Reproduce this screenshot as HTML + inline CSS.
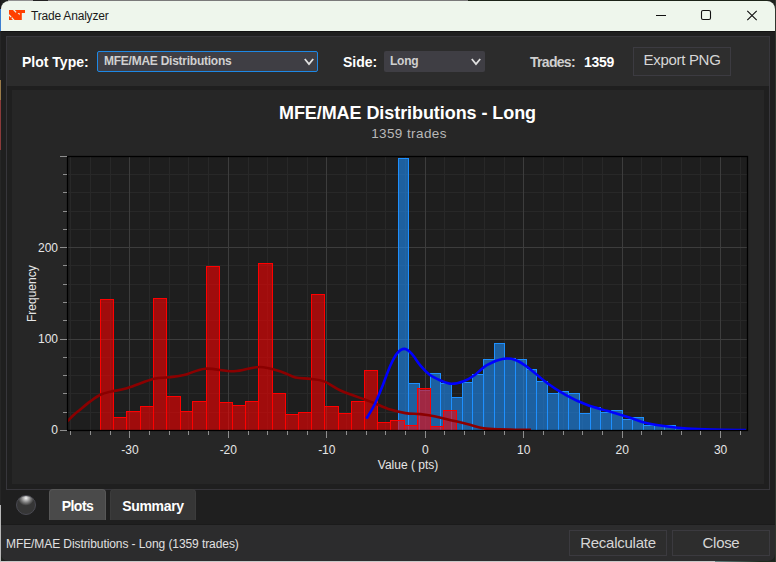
<!DOCTYPE html>
<html><head><meta charset="utf-8">
<style>
*{box-sizing:border-box;margin:0;padding:0}
html,body{width:776px;height:562px;overflow:hidden}
body{position:relative;background:#1e221e;font-family:"Liberation Sans",sans-serif}
.abs{position:absolute}
.win{position:absolute;left:1px;top:1px;width:774px;height:560px;border-radius:8px;overflow:hidden;background:#1f1f1f}
.title{position:absolute;left:0;top:0;width:774px;height:30px;background:#eef6ec}
.tline{position:absolute;left:0;top:30px;width:774px;height:1px;background:#121212}
.ttext{position:absolute;left:30px;top:8px;font-size:12px;letter-spacing:-0.2px;color:#1a1a1a;white-space:nowrap}
.panel{position:absolute;left:6px;top:36px;width:764px;height:454px;border:1px solid #37363b;background:#1f1f1f}
.hdr{position:absolute;left:7px;top:37px;width:762px;height:49px;background:#2c2c2c}
.chartbox{position:absolute;left:12px;top:90px;width:752px;height:394px;background:#262626}
.lbl{position:absolute;font-weight:bold;font-size:14px;letter-spacing:0;color:#fff;white-space:nowrap}
.combo{position:absolute;height:21px;background:#3f3e44;border-radius:2px}
.combo .t{position:absolute;left:6px;top:3px;font-size:12px;letter-spacing:-0.25px;font-weight:bold;color:#d0d0d0;white-space:nowrap}
.btn{position:absolute;border:1px solid #3a3a3a;background:#2a2a2a;color:#d6d6d6;font-size:14px;text-align:center;white-space:nowrap}
.tl{position:absolute;width:40px;text-align:center;font-size:12px;color:#e6e6e6}
.yl{position:absolute;left:21px;width:37px;text-align:right;font-size:12px;color:#e6e6e6}
.tab{position:absolute;top:489px;height:31px;border-radius:4px 4px 0 0;font-weight:bold;font-size:13.5px;color:#fff;text-align:center;line-height:31px}
.status{position:absolute;left:0;top:523px;width:774px;height:37px;background:#2b2b2b}
</style></head>
<body>
<div class="abs" style="left:0;top:0;width:1px;height:562px;background:linear-gradient(#1a1a1a 0,#1a1a1a 9px,#3d7fd0 9px,#3d7fd0 31px,#262626 31px,#262626 80px,#9a7a48 80px,#9a7a48 100px,#8a3a3a 100px,#8a3a3a 150px,#262626 150px,#262626 505px,#b8b8b8 505px)"></div>
<div class="abs" style="left:0;top:561px;width:776px;height:1px;background:linear-gradient(90deg,#c8c8c8 0,#c8c8c8 715px,#6a8888 715px,#1e2a1e 760px)"></div>
<div class="abs" style="left:775px;top:0;width:1px;height:562px;background:#30362e"></div>
<div class="abs" style="left:8px;top:0;width:760px;height:1px;background:linear-gradient(90deg,#909090 0,#909090 25px,#222 25px,#222 40px,#7a7a7a 40px,#7a7a7a 460px,#1c2418 460px)"></div>
<div class="win">
  <div class="title"></div>
  <div class="tline"></div>
  <svg class="abs" style="left:8px;top:9px" width="16" height="10" viewBox="0 0 16 10">
    <path d="M0,0 H16 V3 H12.8 V10 H0 Z" fill="#ff4000"/>
    <path d="M4.5,-0.4 L7.1,2.4 M-0.3,4.6 L2.1,7 M2.7,7.6 L5.1,10.4" stroke="#eef6ec" stroke-width="1.3"/>
    <path d="M8.6,3 L10.6,3 L10.6,5.2 Z" fill="#eef6ec"/>
  </svg>
  <div class="ttext">Trade Analyzer</div>
  <!-- title buttons -->
  <svg class="abs" style="left:639px;top:-1px" width="134" height="30" viewBox="0 0 134 30">
    <path d="M16,15.5 H26" stroke="#111" stroke-width="1.1"/>
    <rect x="61.5" y="10.5" width="9" height="9" rx="1.5" fill="none" stroke="#111" stroke-width="1.1"/>
    <path d="M107.3,10.8 L116.7,20.2 M116.7,10.8 L107.3,20.2" stroke="#111" stroke-width="1.15"/>
  </svg>
</div>
<div class="panel"></div>
<div class="hdr"></div>
<div class="lbl" style="left:22px;top:54px">Plot Type:</div>
<div class="combo" style="left:97px;top:51px;width:221px;border:1px solid #1e88e5"><div class="t" style="left:6px;top:2px">MFE/MAE Distributions</div>
  <svg class="abs" style="left:206px;top:5.5px" width="11" height="8" viewBox="0 0 11 8"><path d="M0.8,1 L5,6 L9.2,1" stroke="#e0e0e0" stroke-width="1.8" fill="none"/></svg></div>
<div class="lbl" style="left:343px;top:54px">Side:</div>
<div class="combo" style="left:384px;top:51px;width:101px"><div class="t" style="left:6px;top:3px">Long</div>
  <svg class="abs" style="left:86.5px;top:6.5px" width="11" height="8" viewBox="0 0 11 8"><path d="M0.8,1 L5,6 L9.2,1" stroke="#e0e0e0" stroke-width="1.8" fill="none"/></svg></div>
<div class="lbl" style="left:530px;top:54px;color:#cfcfcf;font-size:14px;letter-spacing:-0.7px">Trades:</div>
<div class="lbl" style="left:584px;top:54px;font-size:14px;letter-spacing:-0.3px">1359</div>
<div class="btn" style="left:633px;top:47px;width:98px;height:29px;line-height:24px;font-size:15px;letter-spacing:-0.3px;background:#2e2e2e;border-color:#3c3b41">Export PNG</div>

<div class="chartbox"></div>
<div class="abs" style="left:0;width:815px;top:103px;text-align:center;font-weight:bold;font-size:18px;letter-spacing:-0.07px;color:#fff;white-space:nowrap">MFE/MAE Distributions - Long</div>
<div class="abs" style="left:0;width:816px;top:126px;width:818px;text-align:center;font-size:13.5px;letter-spacing:0.4px;color:#b8b8b8;white-space:nowrap">1359 trades</div>
<svg width="776" height="562" viewBox="0 0 776 562" style="position:absolute;left:0;top:0">
<rect x="67" y="156" width="680" height="274" fill="#1e1e1e"/>
<path d="M70.5,156 V430 M90.5,156 V430 M110.5,156 V430 M149.5,156 V430 M169.5,156 V430 M188.5,156 V430 M208.5,156 V430 M248.5,156 V430 M267.5,156 V430 M287.5,156 V430 M307.5,156 V430 M346.5,156 V430 M366.5,156 V430 M385.5,156 V430 M405.5,156 V430 M444.5,156 V430 M464.5,156 V430 M484.5,156 V430 M504.5,156 V430 M543.5,156 V430 M563.5,156 V430 M582.5,156 V430 M602.5,156 V430 M641.5,156 V430 M661.5,156 V430 M681.5,156 V430 M700.5,156 V430 M740.5,156 V430 M67,412.5 H747 M67,393.5 H747 M67,375.5 H747 M67,357.5 H747 M67,320.5 H747 M67,302.5 H747 M67,284.5 H747 M67,265.5 H747 M67,229.5 H747 M67,211.5 H747 M67,192.5 H747 M67,174.5 H747" stroke="#282828" stroke-width="1" fill="none"/>
<path d="M129.5,156 V430 M228.5,156 V430 M326.5,156 V430 M425.5,156 V430 M523.5,156 V430 M622.5,156 V430 M720.5,156 V430 M67,339.5 H747 M67,247.5 H747" stroke="#3d3d3d" stroke-width="1" fill="none"/>
<clipPath id="pc"><rect x="67" y="156" width="680" height="274"/></clipPath>
<g clip-path="url(#pc)">
<rect x="398.5" y="158.5" width="10.0" height="272.0" fill="rgba(30,144,255,0.58)" stroke="#1e90ff" stroke-width="1"/>
<rect x="408.5" y="383.5" width="11.0" height="47.0" fill="rgba(30,144,255,0.58)" stroke="#1e90ff" stroke-width="1"/>
<rect x="419.5" y="390.5" width="11.0" height="40.0" fill="rgba(30,144,255,0.58)" stroke="#1e90ff" stroke-width="1"/>
<rect x="430.5" y="373.5" width="10.0" height="57.0" fill="rgba(30,144,255,0.58)" stroke="#1e90ff" stroke-width="1"/>
<rect x="440.5" y="383.5" width="11.0" height="47.0" fill="rgba(30,144,255,0.58)" stroke="#1e90ff" stroke-width="1"/>
<rect x="451.5" y="397.5" width="11.0" height="33.0" fill="rgba(30,144,255,0.58)" stroke="#1e90ff" stroke-width="1"/>
<rect x="462.5" y="382.5" width="10.0" height="48.0" fill="rgba(30,144,255,0.58)" stroke="#1e90ff" stroke-width="1"/>
<rect x="472.5" y="374.5" width="11.0" height="56.0" fill="rgba(30,144,255,0.58)" stroke="#1e90ff" stroke-width="1"/>
<rect x="483.5" y="359.5" width="11.0" height="71.0" fill="rgba(30,144,255,0.58)" stroke="#1e90ff" stroke-width="1"/>
<rect x="494.5" y="343.5" width="10.0" height="87.0" fill="rgba(30,144,255,0.58)" stroke="#1e90ff" stroke-width="1"/>
<rect x="504.5" y="358.5" width="11.0" height="72.0" fill="rgba(30,144,255,0.58)" stroke="#1e90ff" stroke-width="1"/>
<rect x="515.5" y="359.5" width="11.0" height="71.0" fill="rgba(30,144,255,0.58)" stroke="#1e90ff" stroke-width="1"/>
<rect x="526.5" y="369.5" width="10.0" height="61.0" fill="rgba(30,144,255,0.58)" stroke="#1e90ff" stroke-width="1"/>
<rect x="536.5" y="381.5" width="11.0" height="49.0" fill="rgba(30,144,255,0.58)" stroke="#1e90ff" stroke-width="1"/>
<rect x="547.5" y="393.5" width="11.0" height="37.0" fill="rgba(30,144,255,0.58)" stroke="#1e90ff" stroke-width="1"/>
<rect x="558.5" y="391.5" width="10.0" height="39.0" fill="rgba(30,144,255,0.58)" stroke="#1e90ff" stroke-width="1"/>
<rect x="568.5" y="393.5" width="11.0" height="37.0" fill="rgba(30,144,255,0.58)" stroke="#1e90ff" stroke-width="1"/>
<rect x="579.5" y="413.5" width="11.0" height="17.0" fill="rgba(30,144,255,0.58)" stroke="#1e90ff" stroke-width="1"/>
<rect x="590.5" y="407.5" width="10.0" height="23.0" fill="rgba(30,144,255,0.58)" stroke="#1e90ff" stroke-width="1"/>
<rect x="600.5" y="412.5" width="11.0" height="18.0" fill="rgba(30,144,255,0.58)" stroke="#1e90ff" stroke-width="1"/>
<rect x="611.5" y="410.5" width="11.0" height="20.0" fill="rgba(30,144,255,0.58)" stroke="#1e90ff" stroke-width="1"/>
<rect x="622.5" y="419.5" width="10.0" height="11.0" fill="rgba(30,144,255,0.58)" stroke="#1e90ff" stroke-width="1"/>
<rect x="632.5" y="417.5" width="11.0" height="13.0" fill="rgba(30,144,255,0.58)" stroke="#1e90ff" stroke-width="1"/>
<rect x="643.5" y="425.5" width="11.0" height="5.0" fill="rgba(30,144,255,0.58)" stroke="#1e90ff" stroke-width="1"/>
<rect x="654.5" y="425.5" width="10.0" height="5.0" fill="rgba(30,144,255,0.58)" stroke="#1e90ff" stroke-width="1"/>
<rect x="664.5" y="425.5" width="11.0" height="5.0" fill="rgba(30,144,255,0.58)" stroke="#1e90ff" stroke-width="1"/>
<rect x="675.5" y="428.5" width="11.0" height="2.0" fill="rgba(30,144,255,0.58)" stroke="#1e90ff" stroke-width="1"/>
<rect x="100.5" y="299.5" width="13.0" height="131.0" fill="rgba(255,0,0,0.58)" stroke="#ff0000" stroke-width="1"/>
<rect x="113.5" y="417.5" width="13.0" height="13.0" fill="rgba(255,0,0,0.58)" stroke="#ff0000" stroke-width="1"/>
<rect x="126.5" y="411.5" width="14.0" height="19.0" fill="rgba(255,0,0,0.58)" stroke="#ff0000" stroke-width="1"/>
<rect x="140.5" y="406.5" width="13.0" height="24.0" fill="rgba(255,0,0,0.58)" stroke="#ff0000" stroke-width="1"/>
<rect x="153.5" y="298.5" width="13.0" height="132.0" fill="rgba(255,0,0,0.58)" stroke="#ff0000" stroke-width="1"/>
<rect x="166.5" y="396.5" width="14.0" height="34.0" fill="rgba(255,0,0,0.58)" stroke="#ff0000" stroke-width="1"/>
<rect x="180.5" y="411.5" width="12.0" height="19.0" fill="rgba(255,0,0,0.58)" stroke="#ff0000" stroke-width="1"/>
<rect x="192.5" y="401.5" width="14.0" height="29.0" fill="rgba(255,0,0,0.58)" stroke="#ff0000" stroke-width="1"/>
<rect x="206.5" y="266.5" width="13.0" height="164.0" fill="rgba(255,0,0,0.58)" stroke="#ff0000" stroke-width="1"/>
<rect x="219.5" y="402.5" width="13.0" height="28.0" fill="rgba(255,0,0,0.58)" stroke="#ff0000" stroke-width="1"/>
<rect x="232.5" y="405.5" width="13.0" height="25.0" fill="rgba(255,0,0,0.58)" stroke="#ff0000" stroke-width="1"/>
<rect x="245.5" y="401.5" width="13.0" height="29.0" fill="rgba(255,0,0,0.58)" stroke="#ff0000" stroke-width="1"/>
<rect x="258.5" y="263.5" width="14.0" height="167.0" fill="rgba(255,0,0,0.58)" stroke="#ff0000" stroke-width="1"/>
<rect x="272.5" y="393.5" width="13.0" height="37.0" fill="rgba(255,0,0,0.58)" stroke="#ff0000" stroke-width="1"/>
<rect x="285.5" y="414.5" width="13.0" height="16.0" fill="rgba(255,0,0,0.58)" stroke="#ff0000" stroke-width="1"/>
<rect x="298.5" y="412.5" width="13.0" height="18.0" fill="rgba(255,0,0,0.58)" stroke="#ff0000" stroke-width="1"/>
<rect x="311.5" y="294.5" width="13.0" height="136.0" fill="rgba(255,0,0,0.58)" stroke="#ff0000" stroke-width="1"/>
<rect x="324.5" y="406.5" width="14.0" height="24.0" fill="rgba(255,0,0,0.58)" stroke="#ff0000" stroke-width="1"/>
<rect x="338.5" y="413.5" width="13.0" height="17.0" fill="rgba(255,0,0,0.58)" stroke="#ff0000" stroke-width="1"/>
<rect x="351.5" y="401.5" width="13.0" height="29.0" fill="rgba(255,0,0,0.58)" stroke="#ff0000" stroke-width="1"/>
<rect x="364.5" y="370.5" width="13.0" height="60.0" fill="rgba(255,0,0,0.58)" stroke="#ff0000" stroke-width="1"/>
<rect x="377.5" y="422.5" width="13.0" height="8.0" fill="rgba(255,0,0,0.58)" stroke="#ff0000" stroke-width="1"/>
<rect x="390.5" y="420.5" width="14.0" height="10.0" fill="rgba(255,0,0,0.58)" stroke="#ff0000" stroke-width="1"/>
<rect x="404.5" y="425.5" width="13.0" height="5.0" fill="rgba(255,0,0,0.58)" stroke="#ff0000" stroke-width="1"/>
<rect x="417.5" y="388.5" width="13.0" height="42.0" fill="rgba(255,0,0,0.58)" stroke="#ff0000" stroke-width="1"/>
<rect x="430.5" y="426.5" width="13.0" height="4.0" fill="rgba(255,0,0,0.58)" stroke="#ff0000" stroke-width="1"/>
<rect x="443.5" y="410.5" width="13.0" height="20.0" fill="rgba(255,0,0,0.58)" stroke="#ff0000" stroke-width="1"/>
<rect x="483.2" y="429.3" width="8" height="1.2" fill="#ff0000"/>
<path d="M62.0,426.0 C62.8,425.2 65.0,423.4 67.0,421.5 C69.0,419.6 71.9,416.6 74.0,414.7 C76.1,412.8 76.8,412.4 79.5,410.2 C82.2,408.0 86.8,404.0 90.3,401.4 C93.8,398.8 96.9,396.4 100.3,394.8 C103.7,393.2 106.2,392.7 110.4,391.7 C114.7,390.7 120.6,390.1 125.8,388.6 C130.9,387.1 136.4,384.6 141.3,382.9 C146.2,381.2 150.6,379.4 155.2,378.5 C159.8,377.6 164.3,377.9 169.1,377.3 C173.9,376.7 178.0,376.5 184.0,375.1 C190.0,373.7 197.0,369.3 205.3,368.7 C213.6,368.1 225.0,371.6 234.0,371.3 C243.0,371.0 251.4,366.9 259.4,367.0 C267.4,367.1 275.9,370.2 281.9,372.0 C287.9,373.8 290.6,376.4 295.4,377.5 C300.2,378.6 305.8,378.2 310.6,378.9 C315.4,379.5 319.0,379.4 324.1,381.4 C329.2,383.4 334.2,387.7 341.0,390.7 C347.8,393.7 359.0,397.4 364.7,399.5 C370.4,401.6 370.8,401.8 375.1,403.5 C379.4,405.2 385.2,408.0 390.3,409.6 C395.4,411.2 400.4,412.4 405.4,413.1 C410.4,413.9 415.5,413.6 420.5,414.1 C425.5,414.7 430.6,415.4 435.6,416.4 C440.7,417.4 446.7,419.2 450.8,420.2 C454.9,421.2 456.8,421.4 460.0,422.2 C463.2,423.0 466.1,423.8 470.0,424.8 C473.9,425.8 478.7,427.5 483.7,428.3 C488.7,429.1 494.8,429.2 500.0,429.4 C505.2,429.6 509.8,429.6 515.0,429.7 C520.2,429.8 528.3,429.9 531.0,429.9" stroke="#8b0000" stroke-width="2.6" fill="none" stroke-linejoin="round"/>
<path d="M366.4,418.7 C367.8,416.2 372.4,409.1 375.1,403.5 C377.8,397.9 380.2,391.7 382.7,385.4 C385.2,379.1 387.9,371.0 390.3,365.7 C392.7,360.4 394.8,356.2 397.1,353.4 C399.4,350.6 401.9,348.9 404.3,348.9 C406.7,348.9 408.7,350.6 411.4,353.4 C414.1,356.2 417.5,362.1 420.5,365.7 C423.5,369.3 426.3,372.3 429.6,374.8 C432.9,377.3 436.9,379.0 440.5,380.5 C444.1,382.0 447.6,383.7 451.5,383.8 C455.4,383.9 459.8,382.6 463.6,381.2 C467.4,379.8 470.6,377.9 474.5,375.2 C478.4,372.5 482.2,367.8 486.8,365.1 C491.4,362.4 497.7,359.9 502.3,359.0 C506.9,358.1 510.5,358.4 514.6,359.7 C518.7,361.0 521.5,362.7 527.0,366.7 C532.5,370.7 541.3,378.8 547.7,383.5 C554.1,388.2 559.0,391.2 565.5,394.8 C572.0,398.4 579.6,402.1 586.7,404.8 C593.8,407.5 600.9,409.0 608.0,411.1 C615.1,413.2 623.1,415.6 629.3,417.5 C635.5,419.4 639.7,421.3 645.1,422.7 C650.5,424.1 654.9,424.8 661.9,425.8 C668.9,426.8 678.6,428.0 687.0,428.6 C695.4,429.2 702.2,429.4 712.0,429.6 C721.8,429.9 740.3,430.0 746.0,430.1" stroke="#0000ff" stroke-width="2.6" fill="none" stroke-linejoin="round"/>
</g>
<rect x="67.5" y="156.5" width="680" height="274" fill="none" stroke="#000" stroke-width="1.3"/>
<path d="M70.5,431 V435 M90.5,431 V435 M110.5,431 V435 M129.5,431 V438 M149.5,431 V435 M169.5,431 V435 M188.5,431 V435 M208.5,431 V435 M228.5,431 V438 M248.5,431 V435 M267.5,431 V435 M287.5,431 V435 M307.5,431 V435 M326.5,431 V438 M346.5,431 V435 M366.5,431 V435 M385.5,431 V435 M405.5,431 V435 M425.5,431 V438 M444.5,431 V435 M464.5,431 V435 M484.5,431 V435 M504.5,431 V435 M523.5,431 V438 M543.5,431 V435 M563.5,431 V435 M582.5,431 V435 M602.5,431 V435 M622.5,431 V438 M641.5,431 V435 M661.5,431 V435 M681.5,431 V435 M700.5,431 V435 M720.5,431 V438 M740.5,431 V435 M60,430.5 H67 M63,412.5 H67 M63,393.5 H67 M63,375.5 H67 M63,357.5 H67 M60,339.5 H67 M63,320.5 H67 M63,302.5 H67 M63,284.5 H67 M63,265.5 H67 M60,247.5 H67 M63,229.5 H67 M63,211.5 H67 M63,192.5 H67 M63,174.5 H67 M60,156.5 H67" stroke="#8e8e8e" stroke-width="1" fill="none"/>
</svg>
<div class="tl" style="left:109.9px;top:443px">-30</div>
<div class="tl" style="left:208.3px;top:443px">-20</div>
<div class="tl" style="left:306.8px;top:443px">-10</div>
<div class="tl" style="left:405.3px;top:443px">0</div>
<div class="tl" style="left:503.7px;top:443px">10</div>
<div class="tl" style="left:602.2px;top:443px">20</div>
<div class="tl" style="left:700.6px;top:443px">30</div>
<div class="yl" style="top:423.4px">0</div>
<div class="yl" style="top:332.0px">100</div>
<div class="yl" style="top:240.6px">200</div>
<div class="abs" style="left:4px;top:287px;font-size:12px;color:#e6e6e6;transform:rotate(-90deg);transform-origin:28px 7px;width:56px;white-space:nowrap;left:4px">Frequency</div>
<div class="abs" style="left:0;width:816px;top:458px;text-align:center;font-size:12px;color:#e6e6e6;white-space:nowrap">Value ( pts)</div>

<!-- tabs -->
<div class="abs" style="left:16px;top:495px;width:20px;height:20px;border-radius:50%;background:radial-gradient(ellipse 8px 7.5px at 50% 12%, #f4f4f4 0%, #c0c0c0 25%, #7a7a7a 60%, rgba(54,54,54,0) 100%),#363636;border:1px solid #4a4a52"></div>
<div class="tab" style="left:49px;width:57px;background:#4a4a4a;border:1px solid #575757;border-bottom:none;font-size:14px;letter-spacing:-0.5px;line-height:32px">Plots</div>
<div class="tab" style="left:110px;width:86px;background:#363636;border:1px solid #3c3c3c;border-bottom:none;font-size:14px;letter-spacing:-0.3px;line-height:32px">Summary</div>

<div class="abs" style="left:1px;top:524px;width:774px;height:1px;background:#1b1b1b"></div><div class="status" style="left:1px;top:525px;height:36px;background:#2c2c2d;border-radius:0 0 7px 7px"></div>
<div class="abs" style="left:6px;top:537px;font-size:12px;letter-spacing:-0.08px;color:#e0e0e0;white-space:nowrap">MFE/MAE Distributions - Long (1359 trades)</div>
<div class="btn" style="left:569px;top:530px;width:98px;height:26px;line-height:24px;font-size:15px;letter-spacing:-0.25px;background:#2d2d2d;border-color:#3b3a3f">Recalculate</div>
<div class="btn" style="left:672px;top:530px;width:98px;height:26px;line-height:24px;font-size:15px;letter-spacing:-0.3px;background:#2d2d2d;border-color:#3b3a3f">Close</div>
</body></html>
